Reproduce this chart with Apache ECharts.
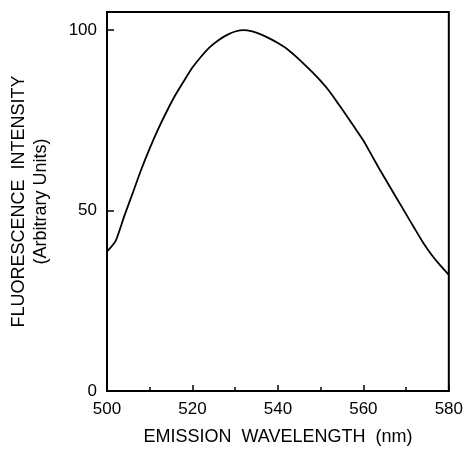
<!DOCTYPE html>
<html>
<head>
<meta charset="utf-8">
<script src="https://cdn.jsdelivr.net/npm/echarts@6/dist/echarts.min.js"></script>
<style>
  html, body { margin: 0; padding: 0; background: #fff; }
  #chart { width: 466px; height: 451px; }
</style>
</head>
<body>
<div id="chart"></div>
<script>
// emission wavelength (nm)
const wavelengths = [500, 502, 504, 506, 508, 510, 512, 514, 516, 518, 520, 522, 524, 526, 528, 530,
  532, 534, 536, 538, 540, 542, 544, 546, 548, 550, 552, 554, 556, 558, 560, 562, 564, 566, 568,
  570, 572, 574, 576, 578, 580];
// fluorescence intensity (arbitrary units)
const intensity = [38.6, 41.5, 48.3, 54.8, 61.3, 67.2, 72.6, 77.5, 82, 85.9, 89.6, 92.6, 95.2, 97.1,
  98.6, 99.6, 100, 99.6, 98.8, 97.7, 96.4, 94.9, 92.9, 90.7, 88.4, 85.9, 83.1, 79.8, 76.4, 72.9,
  69.4, 65.2, 61, 57, 53, 49, 45, 41.1, 37.7, 34.8, 32.2];
const yTicks = [0, 50, 100];

const chart = echarts.init(document.getElementById("chart"));
const font = "Liberation Sans";

chart.setOption({
  animation: false,
  grid: {
    left: 105, top: 12, right: 15, bottom: 59,
    show: true, borderColor: "#000", borderWidth: 2
  },
  xAxis: {
    type: "value",
    min: 500, max: 580, interval: 20,
    name: "EMISSION  WAVELENGTH  (nm)",
    nameLocation: "middle",
    nameGap: 37,
    nameTextStyle: { color: "#000", fontSize: 18, fontFamily: font },
    axisLine: { lineStyle: { color: "#000", width: 2 } },
    axisTick: { inside: true, length: 6, lineStyle: { color: "#000", width: 1.5 } },
    minorTick: { show: true, splitNumber: 2, length: 4, lineStyle: { color: "#000", width: 1.5 } },
    axisLabel: { color: "#000", fontSize: 17, fontFamily: font, margin: 10 },
    splitLine: { show: false }
  },
  yAxis: {
    type: "value",
    min: 0, max: 105,
    name: "FLUORESCENCE  INTENSITY\n(Arbitrary Units)",
    nameLocation: "middle",
    nameGap: 55,
    nameTextStyle: { color: "#000", fontSize: 18, fontFamily: font, lineHeight: 22 },
    axisLine: { lineStyle: { color: "#000", width: 2 } },
    axisTick: { inside: true, length: 7, customValues: yTicks, lineStyle: { color: "#000", width: 1.5 } },
    axisLabel: { color: "#000", fontSize: 17, fontFamily: font, margin: 10, customValues: yTicks },
    splitLine: { show: false }
  },
  series: [{
    type: "line",
    data: wavelengths.map((w, i) => [w, intensity[i]]),
    showSymbol: false,
    smooth: 0.2,
    lineStyle: { color: "#000", width: 1.8 }
  }]
});
</script>
</body>
</html>
